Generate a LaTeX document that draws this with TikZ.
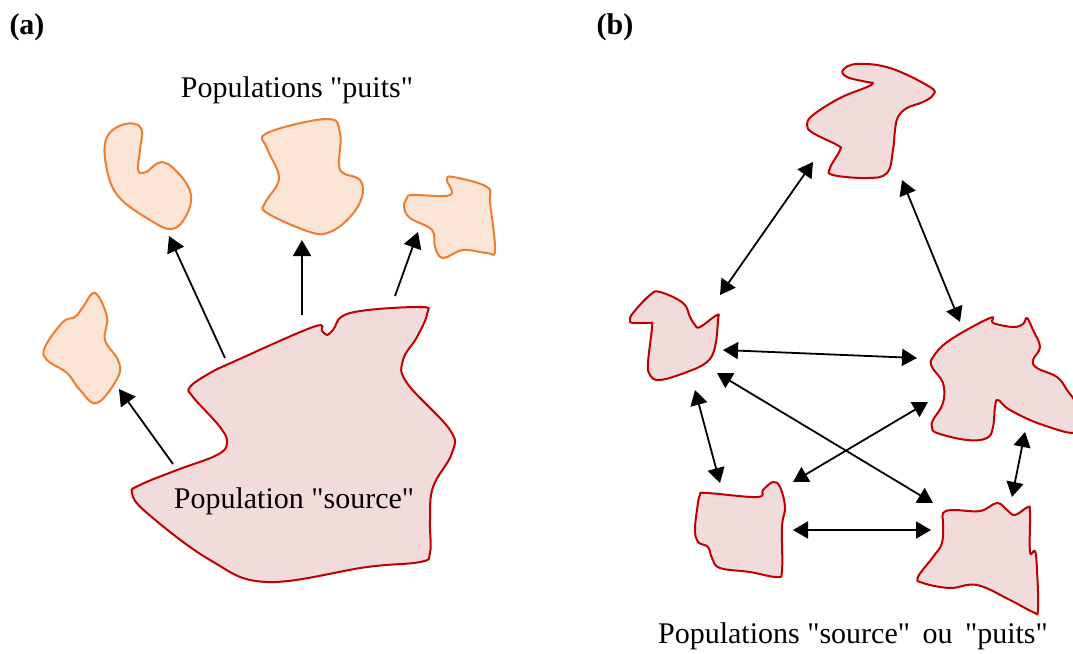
\documentclass[tikz,border=0pt]{standalone}
\usepackage{fontspec}
\setmainfont{Liberation Serif}[Ligatures=TeXOff]
\usetikzlibrary{arrows.meta}
\definecolor{sinkline}{HTML}{ED7D31}
\definecolor{sinkfill}{HTML}{FBE5D6}
\definecolor{srcline}{HTML}{C00000}
\definecolor{srcfill}{HTML}{F2DCDB}
\tikzset{
  sinkblob/.style={draw=sinkline,fill=sinkfill,line width=2pt,line join=round},
  srcblob/.style={draw=srcline,fill=srcfill,line width=2pt,line join=round},
  flow/.style={line width=1.8pt,-{Triangle[length=16pt,width=18pt]}},
  exchange/.style={line width=1.8pt,{Triangle[length=15pt,width=17pt]}-{Triangle[length=15pt,width=17pt]}},
  lbl/.style={font=\fontsize{30}{34}\selectfont,inner sep=0pt},
  panel/.style={font=\fontsize{30}{34}\selectfont\bfseries,inner sep=0pt}
}
\begin{document}
\begin{tikzpicture}[x=1pt,y=-1pt]
\useasboundingbox (0,0) rectangle (1073,653);

% ---------- panel (a) ----------
\node[panel] (pa) at (27,27) {(a)};

% source population
\draw[srcblob] plot[smooth cycle,tension=0.65] coordinates {
  (190,387) (210,373) (233,362) (313,327) (322,331) (327,335) (333,330)
  (350,313) (420,307) (427,314) (417,337) (403,360) (407,383) (450,430)
  (452,453) (433,487) (430,520) (430,553) (420,562) (367,567) (267,582)
  (210,560) (147,513) (132,493) (140,485) (177,470) (217,455) (227,443)
  (220,427) (193,397)};

% sink populations
\draw[sinkblob] plot[smooth cycle,tension=0.65] coordinates {
  (107,137) (125,124) (141,128) (140,150) (138,170) (146,172) (162,162)
  (180,175) (191,195) (186,216) (172,229) (150,220) (118,196) (106,165)};
\draw[sinkblob] plot[smooth cycle,tension=0.65] coordinates {
  (267,133) (327,119) (340,133) (339,163) (343,173) (360,180) (362,197)
  (350,217) (330,232) (310,232) (267,213) (265,203) (277,185) (278,172)
  (267,148)};
\draw[sinkblob] plot[smooth cycle,tension=0.65] coordinates {
  (407,198) (413,195) (450,195) (447,180) (453,177) (487,187) (490,203)
  (495,250) (487,253) (463,250) (443,258) (435,247) (432,230) (410,218)
  (404,207)};
\draw[sinkblob] plot[smooth cycle,tension=0.65] coordinates {
  (95,293) (107,317) (105,340) (118,360) (118,377) (97,403) (80,390)
  (67,373) (47,360) (45,347) (63,322) (75,317) (83,307)};

\node[lbl] (puits) at (297,90) {Populations "puits"};
\node[lbl] (source) at (294,501) {Population "source"};

\coordinate (s1) at (173,464); \coordinate (k1) at (119,389);
\coordinate (s2) at (225,358); \coordinate (k2) at (169,236);
\coordinate (s3) at (302,315); \coordinate (k3) at (302,240);
\coordinate (s4) at (395,296); \coordinate (k4) at (418,232);
\draw[flow] (s1) -- (k1);
\draw[flow] (s2) -- (k2);
\draw[flow] (s3) -- (k3);
\draw[flow] (s4) -- (k4);

% ---------- panel (b) ----------
\node[panel] (pb) at (615,27) {(b)};

% top
\draw[srcblob] plot[smooth cycle,tension=0.65] coordinates {
  (843,70) (857,64) (890,68) (930,87) (933,95) (923,102) (907,108)
  (898,117) (895,130) (893,150) (887,173) (867,178) (833,175) (830,168)
  (840,150) (837,145) (813,133) (807,125) (813,115) (840,98) (867,87)
  (873,83) (867,82) (847,77)};
% left
\draw[srcblob] plot[smooth cycle,tension=0.65] coordinates {
  (630,320) (633,313) (650,295) (660,292) (683,303) (690,317) (695,325)
  (700,327) (717,315) (718,320) (715,347) (707,362) (687,372) (660,380)
  (650,375) (648,363) (652,327) (650,323) (633,323)};
% right
\draw[srcblob] plot[smooth cycle,tension=0.65] coordinates {
  (933,357) (950,340) (990,318) (993,323) (1013,327) (1023,324) (1027,318)
  (1033,330) (1040,347) (1033,360) (1037,368) (1057,377) (1067,390)
  (1076,405) (1078,432) (1043,425) (1010,410) (998,400) (995,407)
  (993,427) (987,438) (967,440) (937,433) (932,427) (933,420) (943,403)
  (943,383) (932,367)};
% bottom left
\draw[srcblob] plot[smooth cycle,tension=0.65] coordinates {
  (700,495) (707,493) (757,497) (763,490) (773,482) (780,487) (785,507)
  (782,527) (782,570) (777,577) (750,572) (720,568) (712,558) (708,547)
  (698,542) (695,530) (697,510)};
% bottom right
\draw[srcblob] plot[smooth cycle,tension=0.65] coordinates {
  (943,513) (953,510) (980,511) (997,503) (1007,510) (1015,515) (1028,507)
  (1030,513) (1030,552) (1035,551) (1037,570) (1038,610) (1033,612)
  (1010,600) (977,585) (950,588) (923,583) (918,577) (933,557) (942,543)
  (943,523)};

\node[lbl] (both) at (853,636) {Populations "source"\, ou\, "puits"};

\coordinate (tA) at (813,162); \coordinate (lA) at (720,295);
\coordinate (tB) at (902,180); \coordinate (rA) at (960,322);
\coordinate (lB) at (723,350); \coordinate (rB) at (917,358);
\coordinate (lC) at (717,373); \coordinate (brA) at (933,503);
\coordinate (rC) at (928,402); \coordinate (blA) at (793,482);
\coordinate (lD) at (695,390); \coordinate (blB) at (720,483);
\coordinate (blC) at (793,530); \coordinate (brB) at (931,530);
\coordinate (rD) at (1025,432); \coordinate (brC) at (1012,497);
\draw[exchange] (tA) -- (lA);
\draw[exchange] (tB) -- (rA);
\draw[exchange] (lB) -- (rB);
\draw[exchange] (lC) -- (brA);
\draw[exchange] (rC) -- (blA);
\draw[exchange] (lD) -- (blB);
\draw[exchange] (blC) -- (brB);
\draw[exchange] (rD) -- (brC);
\end{tikzpicture}
\end{document}
